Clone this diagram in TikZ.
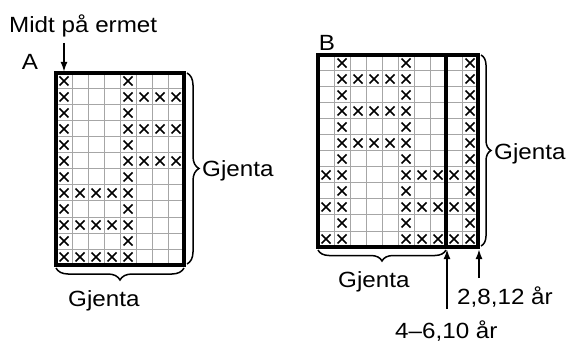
\documentclass[tikz,border=0pt]{standalone}
\usepackage{fontspec}
\setmainfont{Liberation Sans}[FakeStretch=1.1]
\usetikzlibrary{arrows.meta,decorations.pathreplacing}

\tikzset{
  tekst/.style={inner sep=0pt,font=\fontsize{22}{26}\selectfont},
  tynn/.style={line width=1pt,gray!70},
  tykk/.style={line width=3.4pt,black},
  pil/.style={line width=2pt,-{Latex[length=10pt,width=7pt]}},
  klamme/.style={line width=1.5pt,decorate,decoration={brace,amplitude=12pt}},
  kryss/.pic={\draw[line width=1.5pt] (-4.5,-4.5) -- (4.5,4.5) (-4.5,4.5) -- (4.5,-4.5);}
}

\begin{document}
\begin{tikzpicture}[x=1pt,y=-1pt]
    \useasboundingbox (0,0) rectangle (568,342);

    % Grid A
    \foreach \i in {1,...,7} \draw[tynn] (56+16*\i,73) -- (56+16*\i,265);
    \foreach \j in {1,...,11} \draw[tynn] (56,73+16*\j) -- (184,73+16*\j);
    \foreach \r/\cols in {1/{1,5},2/{1,5,6,7,8},3/{1,5},4/{1,5,6,7,8},5/{1,5},6/{1,5,6,7,8},
                          7/{1,5},8/{1,2,3,4,5},9/{1,5},10/{1,2,3,4,5},11/{1,5},12/{1,2,3,4,5}}
        \foreach \c in \cols \pic at (48+16*\c,65+16*\r) {kryss};
    \draw[tykk] (56,73) rectangle (184,265);

    % Grid B
    \foreach \i in {1,...,9} \draw[tynn] (318+16*\i,55) -- (318+16*\i,247);
    \foreach \j in {1,...,11} \draw[tynn] (318,55+16*\j) -- (478,55+16*\j);
    \foreach \r/\cols in {1/{2,6,10},2/{2,3,4,5,6,10},3/{2,6,10},4/{2,3,4,5,6,10},5/{2,6,10},6/{2,3,4,5,6,10},
                          7/{2,6,10},8/{1,2,6,7,8,9,10},9/{2,6,10},10/{1,2,6,7,8,9,10},11/{2,6,10},12/{1,2,6,7,8,9,10}}
        \foreach \c in \cols \pic at (310+16*\c,47+16*\r) {kryss};
    \draw[tykk] (318,55) rectangle (478,247);
    \draw[tykk] (446,55) -- (446,247);

    % Labels
    \node[tekst,anchor=base] (a) at (30,70) {A};
    \node[tekst,anchor=base] (b) at (327,51) {B};
    \node[tekst,anchor=base west] (midt) at (9,33) {Midt på ermet};
    \node[tekst,anchor=base west] (gjAh) at (202,177) {Gjenta};
    \node[tekst,anchor=base west] (gjAu) at (68,306) {Gjenta};
    \node[tekst,anchor=base west] (gjBh) at (494,160) {Gjenta};
    \node[tekst,anchor=base west] (gjBu) at (338,287) {Gjenta};
    \node[tekst,anchor=base west] (aar2) at (457,304) {2,8,12 år};
    \node[tekst,anchor=base west] (aar4) at (395,338) {4–6,10 år};

    % Braces
    \draw[klamme] (187,73) -- (187,264);
    \draw[klamme] (184,268) -- (56,268);
    \draw[klamme,decoration={amplitude=10pt}] (481,55) -- (481,246);
    \draw[klamme,decoration={amplitude=11pt}] (446,250) -- (318,250);

    % Arrows
    \coordinate (midttopp) at (64,72);
    \coordinate (indre) at (447,249);
    \coordinate (ytre) at (479,249);
    \draw[pil] ([yshift=-5pt]midttopp |- midt.south) -- (midttopp);
    \draw[pil] ([yshift=8pt]ytre |- aar2.north) -- (ytre);
    \draw[pil] ([yshift=11pt]indre |- aar4.north) -- (indre);
\end{tikzpicture}
\end{document}
